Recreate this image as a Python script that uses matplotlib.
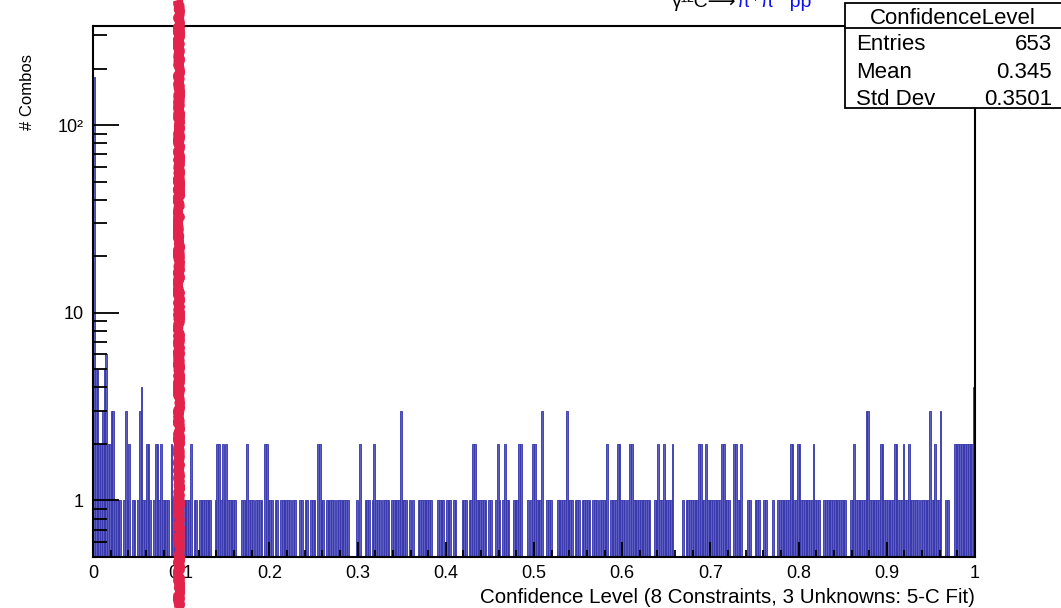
import numpy as np
import matplotlib
matplotlib.use("Agg")
import matplotlib.pyplot as plt
import matplotlib.ticker as ticker
import matplotlib.transforms as mtransforms
from matplotlib.lines import Line2D
from matplotlib.patches import Rectangle

###########################################################################
# histogram contents: 500 bins over [0,1], one list per 0.1 wide slice

cl_00_01 = [180, 5, 5, 2, 2, 3, 5, 6, 2, 2,
            3, 3, 1, 1, 1, 1, 0, 1, 3, 1,
            2, 0, 1, 1, 0, 1, 3, 4, 1, 1,
            2, 2, 1, 0, 1, 2, 2, 1, 2, 1,
            1, 1, 1, 0, 2, 1, 1, 1, 1, 0]
cl_01_02 = [0, 1, 1, 1, 1, 2, 0, 1, 1, 0,
            1, 1, 1, 1, 1, 1, 1, 0, 0, 1,
            2, 2, 1, 2, 1, 2, 1, 1, 1, 1,
            1, 0, 0, 0, 1, 1, 1, 2, 1, 1,
            1, 0, 1, 1, 1, 1, 0, 2, 2, 1]
cl_02_03 = [1, 1, 0, 1, 1, 0, 1, 1, 1, 1,
            1, 1, 0, 1, 1, 0, 0, 1, 1, 0,
            1, 1, 0, 1, 1, 1, 0, 2, 2, 1,
            1, 0, 1, 1, 1, 1, 1, 0, 1, 1,
            1, 1, 1, 1, 1, 0, 0, 0, 0, 1]
cl_03_04 = [0, 2, 0, 0, 1, 1, 1, 0, 1, 2,
            1, 1, 1, 0, 1, 1, 1, 1, 0, 1,
            1, 1, 1, 1, 3, 1, 1, 1, 0, 1,
            0, 1, 0, 0, 1, 1, 1, 1, 1, 1,
            1, 1, 0, 0, 0, 1, 1, 1, 1, 0]
cl_04_05 = [1, 1, 1, 0, 1, 1, 0, 0, 0, 1,
            1, 1, 0, 1, 1, 2, 2, 1, 1, 1,
            1, 1, 1, 0, 1, 1, 0, 0, 1, 2,
            1, 0, 1, 2, 1, 1, 0, 0, 1, 1,
            1, 2, 2, 0, 0, 0, 1, 0, 1, 2]
cl_05_06 = [2, 1, 1, 1, 3, 0, 0, 1, 1, 1,
            0, 0, 0, 1, 1, 1, 1, 1, 3, 1,
            1, 1, 0, 1, 1, 1, 0, 1, 1, 1,
            1, 1, 0, 1, 1, 1, 0, 1, 1, 1,
            1, 2, 0, 1, 1, 1, 1, 2, 2, 1]
cl_06_07 = [1, 1, 0, 1, 2, 2, 1, 1, 1, 1,
            1, 1, 1, 1, 1, 1, 0, 0, 1, 1,
            2, 1, 1, 2, 1, 1, 1, 1, 2, 0,
            0, 0, 0, 0, 1, 0, 1, 1, 1, 1,
            1, 1, 1, 2, 2, 1, 1, 2, 1, 1]
cl_07_08 = [1, 1, 1, 1, 1, 1, 2, 2, 1, 1,
            1, 0, 0, 2, 2, 1, 1, 2, 0, 0,
            0, 1, 1, 0, 0, 1, 1, 1, 0, 0,
            1, 1, 0, 0, 0, 1, 0, 0, 1, 1,
            1, 1, 1, 1, 1, 2, 2, 1, 1, 2]
cl_08_09 = [2, 1, 1, 1, 1, 1, 1, 1, 2, 1,
            1, 1, 0, 0, 1, 1, 1, 1, 1, 1,
            1, 1, 1, 1, 1, 1, 1, 0, 0, 1,
            1, 2, 1, 1, 1, 1, 1, 1, 3, 3,
            1, 1, 1, 1, 1, 1, 2, 2, 1, 1]
cl_09_10 = [1, 1, 1, 1, 2, 2, 1, 1, 1, 2,
            1, 1, 2, 1, 1, 1, 1, 1, 0, 1,
            1, 1, 1, 1, 3, 1, 1, 2, 1, 1,
            3, 0, 0, 1, 1, 0, 0, 0, 2, 2,
            2, 2, 2, 2, 2, 2, 2, 2, 2, 4]

x_min, x_max, n_bins = 0.0, 1.0, 500
cut_value = 0.097          # hand-drawn cut marker

stat_names = ["Entries", "Mean", "Std Dev"]
stat_values = ["653", "0.345", "0.3501"]
hist_name = "ConfidenceLevel"

x_title = "Confidence Level (8 Constraints, 3 Unknowns: 5-C Fit)"
y_title = "# Combos"

###########################################################################

counts = np.array(cl_00_01 + cl_01_02 + cl_02_03 + cl_03_04 + cl_04_05 +
                  cl_05_06 + cl_06_07 + cl_07_08 + cl_08_09 + cl_09_10, dtype=float)
edges = np.linspace(x_min, x_max, n_bins + 1)
width = edges[1] - edges[0]

y_lo, y_hi = 0.5, 337.0
filled = counts > 0

plt.rcParams['font.family'] = ['Liberation Sans', 'DejaVu Sans']

W, H = 1061, 608
fig = plt.figure(figsize=(W / 100, H / 100), dpi=100)
ax = fig.add_axes([93 / W, 1 - 557 / H, (975 - 93) / W, (557 - 26) / H])

# each filled bin as its own bar, outlined like ROOT's bar drawing
ax.bar(edges[:-1][filled], counts[filled] - y_lo, width=width, bottom=y_lo,
       align='edge', facecolor='#5d5dc2', edgecolor='#3636ac', linewidth=0.6,
       zorder=1)

ax.set_yscale('log')
ax.set_xlim(x_min, x_max)
ax.set_ylim(y_lo, y_hi)
ax.set_axisbelow(False)

# ROOT-like axes: ticks inside, no ticks on top/right
ax.xaxis.set_major_locator(ticker.MultipleLocator(0.1))
ax.xaxis.set_minor_locator(ticker.MultipleLocator(0.02))
ax.xaxis.set_major_formatter(ticker.FuncFormatter(lambda v, p: '%g' % round(v, 2)))
ax.yaxis.set_major_locator(ticker.LogLocator(base=10, subs=(1.0,)))
ax.yaxis.set_minor_locator(ticker.LogLocator(base=10, subs=np.arange(2, 10), numticks=20))
ylab = {1: '1', 10: '10', 100: '10²'}
ax.yaxis.set_major_formatter(ticker.FuncFormatter(lambda v, p: ylab.get(int(round(v)), '')))
ax.yaxis.set_minor_formatter(ticker.NullFormatter())

ax.tick_params(axis='x', which='major', direction='in', length=11, width=1.3,
               labelsize=13, pad=6, top=False)
ax.tick_params(axis='x', which='minor', direction='in', length=5, width=1.3, top=False)
ax.tick_params(axis='y', which='major', direction='in', length=19, width=1.3,
               labelsize=13, pad=7, right=False)
ax.tick_params(axis='y', which='minor', direction='in', length=10, width=1.3, right=False)
for sp in ax.spines.values():
    sp.set_linewidth(1.5)

fig.text(975 / W, 1 - 603 / H, x_title, ha='right', va='baseline', fontsize=14.8)
fig.text(28 / W, 1 - 54 / H, y_title, ha='center', va='top', rotation=90, fontsize=12)

# reaction label at the top, partly outside the canvas
fig.text(737 / W, 1 - 7 / H, 'γ¹²C⟶', ha='right', va='baseline', fontsize=14,
         color='black', family=['Liberation Sans', 'DejaVu Sans'])
fig.text(737 / W, 1 - 7 / H, 'π⁺π⁻ pp', ha='left', va='baseline', fontsize=14,
         color='#1010f0', family=['Liberation Sans', 'DejaVu Sans'])

# stats box
box_l, box_t, box_b, box_sep = 845, 3, 108, 28
fig.add_artist(Rectangle((box_l / W, 1 - box_b / H), (W + 10 - box_l) / W,
                         (box_b - box_t) / H, transform=fig.transFigure,
                         facecolor='white', edgecolor='black', lw=1.3, zorder=10))
fig.add_artist(Line2D([box_l / W, 1.0], [1 - box_sep / H] * 2,
                      transform=fig.transFigure, color='black', lw=1.3, zorder=11))
fig.text(953 / W, 1 - 24 / H, hist_name, ha='center', va='baseline',
         fontsize=16, zorder=12)
for k, (nm, val) in enumerate(zip(stat_names, stat_values)):
    yb = 1 - (50 + 27.5 * k) / H
    fig.text(856 / W, yb, nm, ha='left', va='baseline', fontsize=16, zorder=12)
    fig.text(1052 / W, yb, val, ha='right', va='baseline', fontsize=16, zorder=12)

# red marker line at the cut value, spanning the whole canvas
trans = mtransforms.blended_transform_factory(ax.transData, fig.transFigure)
cut = Line2D([cut_value, cut_value], [0.0, 1.0], transform=trans,
             color='#e2234b', lw=7, zorder=20, solid_capstyle='butt')
cut.set_sketch_params(scale=1.2, length=6, randomness=20)
fig.add_artist(cut)

fig.savefig('out.png', dpi=100)
